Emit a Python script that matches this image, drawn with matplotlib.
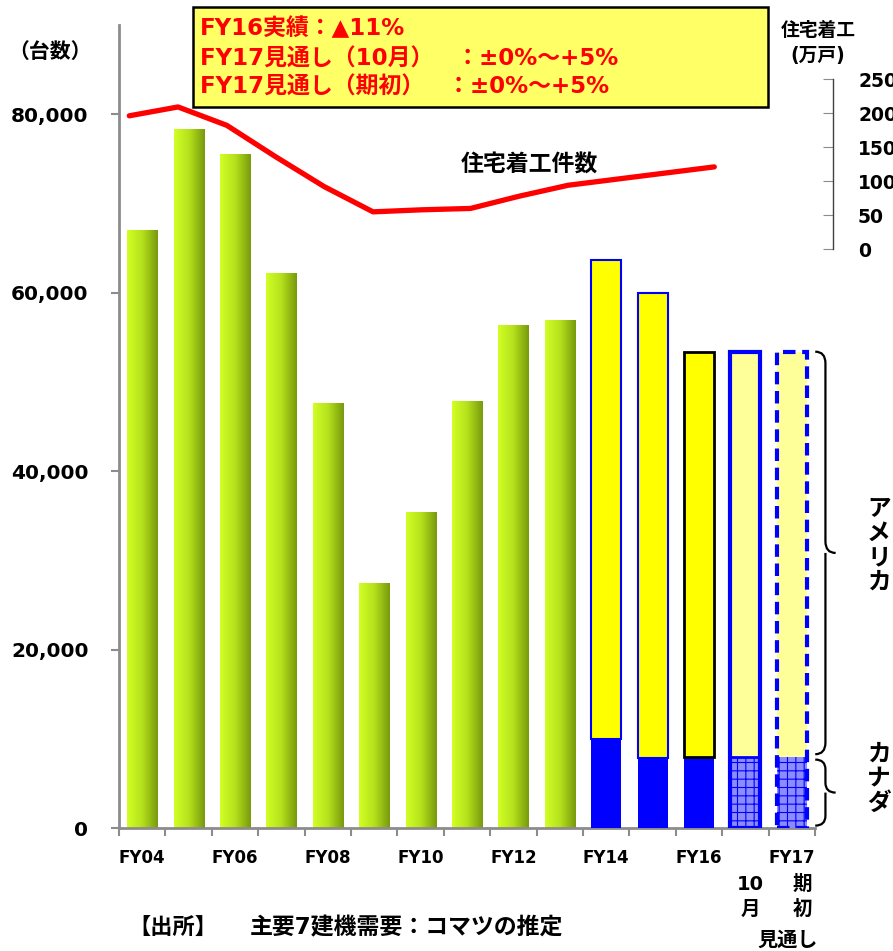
import numpy as np
import matplotlib
matplotlib.use("Agg")
import matplotlib.pyplot as plt
from matplotlib.patches import Rectangle, PathPatch
from matplotlib.path import Path
from matplotlib.colors import LinearSegmentedColormap

plt.rcParams['font.family'] = ['DejaVu Sans', 'Noto Sans CJK JP']
plt.rcParams['font.weight'] = 'bold'
plt.rcParams['hatch.linewidth'] = 0.8

# ---- data ----
categories = ["FY04", "FY05", "FY06", "FY07", "FY08", "FY09", "FY10",
              "FY11", "FY12", "FY13", "FY14", "FY15", "FY16",
              "FY17_10", "FY17_init"]
tick_labels = ["FY04", "", "FY06", "", "FY08", "", "FY10", "",
               "FY12", "", "FY14", "", "FY16", "", "FY17"]
# total demand for FY04-FY13 (units)
total_demand = [67000, 78300, 75600, 62200, 47700, 27500, 35400,
                47900, 56400, 57000]
# split into America / Canada for FY14 onward (units)
usa_demand = [53700, 52100, 45400, 45400, 45400]
canada_demand = [10000, 7900, 8000, 8000, 8000]
# housing starts (10k units), FY04-FY16
housing_years = ["FY04", "FY05", "FY06", "FY07", "FY08", "FY09", "FY10",
                 "FY11", "FY12", "FY13", "FY14", "FY15", "FY16"]
housing_starts = [196, 209, 182, 136, 92, 55, 58, 60, 78, 94, 103, 112, 121]

left_ticks = [0, 20000, 40000, 60000, 80000]
right_ticks = [0, 50, 100, 150, 200, 250]

fig = plt.figure(figsize=(8.93, 9.51), dpi=100)
W, H = 893, 951
ax = fig.add_axes([119 / W, 1 - 828.3 / H, (815 - 119) / W, (828.3 - 25) / H])

n = len(categories)
x = np.arange(n)
bw = 0.65
gray = "#8c8c8c"

# gradient green bars
green_cmap = LinearSegmentedColormap.from_list("g", ["#d2ff24", "#b4e01c", "#789a0c"])
grad = np.linspace(0, 1, 64).reshape(1, -1)
green = ax.bar(x[:len(total_demand)], total_demand, width=bw, color="none",
               linewidth=0, zorder=2)
for p in green:
    x0, y0 = p.get_x(), p.get_y()
    im = ax.imshow(grad, cmap=green_cmap, aspect="auto", zorder=2,
                   extent=[x0, x0 + p.get_width(), y0, y0 + p.get_height()])
    im.set_clip_path(p)

# stacked bars FY14 onward
xs = x[len(total_demand):]
can_colors = ["#0000ff", "#0000ff", "#0000ff", "#8c8cff", "#8c8cff"]
can_hatch = [None, None, None, "++", "++"]
usa_colors = ["#ffff00", "#ffff00", "#ffff00", "#ffff99", "#ffff99"]
usa_edges = ["#0000ff", "#0000ff", "#000000", "#0000ff", "#0000ff"]
usa_lw = [1.5, 1.5, 2.0, 2.0, 0]
for i, xi in enumerate(xs):
    ax.bar(xi, canada_demand[i], width=bw, color=can_colors[i],
           edgecolor="#0000ff", linewidth=0, hatch=can_hatch[i], zorder=3)
    ax.bar(xi, usa_demand[i], bottom=canada_demand[i], width=bw,
           color=usa_colors[i], edgecolor=usa_edges[i], linewidth=usa_lw[i],
           zorder=3)
# outlines for the two FY17 outlook bars
tot17 = [u + c for u, c in zip(usa_demand, canada_demand)]
ax.bar(xs[3], tot17[3], width=bw, fill=False, edgecolor="#0000ff",
       linewidth=3, zorder=4)
ax.bar(xs[4], tot17[4], width=bw, fill=False, edgecolor="#0000ff",
       linewidth=3, linestyle=(0, (3, 1.6)), zorder=4)

ax.set_xlim(-0.5, n - 0.5)
ax.set_ylim(0, 90000)
ax.set_yticks(left_ticks)
ax.set_yticklabels([f"{v:,}" for v in left_ticks], fontsize=14.5, fontweight="bold")
ax.set_xticks(x)
ax.set_xticklabels(tick_labels, fontsize=12, fontweight="bold")
ax.tick_params(axis="x", length=0, pad=15)
ax.set_xticks(np.arange(n + 1) - 0.5, minor=True)
ax.tick_params(axis="x", which="minor", length=6, color=gray, width=1.5, direction="out")
ax.tick_params(axis="y", length=6, color=gray, width=1.5, pad=16)
for s in ["top", "right"]:
    ax.spines[s].set_visible(False)
for s in ["left", "bottom"]:
    ax.spines[s].set_color(gray)
    ax.spines[s].set_linewidth(2)
ax.patch.set_alpha(0)

# housing starts line on its own axes
ax2 = fig.add_axes(ax.get_position())
ax2.patch.set_alpha(0)
for s in ["top", "left", "bottom"]:
    ax2.spines[s].set_visible(False)
ax2.set_xlim(-0.211, 14.066)
ax2.set_ylim(-850, 329.3)
ax2.plot(np.arange(len(housing_starts)), housing_starts, color="#ff0000",
         linewidth=3.8, solid_capstyle="round", solid_joinstyle="round", zorder=5)
ax2.set_xticks([])
ax2.yaxis.tick_right()
ax2.set_yticks(right_ticks)
ax2.set_yticklabels([str(v) for v in right_ticks])
ax2.spines["right"].set_position(("axes", (833 - 119) / (815 - 119)))
ax2.spines["right"].set_bounds(0, 250)
ax2.spines["right"].set_color("#404040")
ax2.spines["right"].set_linewidth(1)
ax2.tick_params(axis="y", direction="in", length=7, color=gray, pad=18,
                labelsize=13.5)
for lbl in ax2.get_yticklabels():
    lbl.set_horizontalalignment("left")
    lbl.set_fontweight("bold")
ax2.text(6.8, 124, "住宅着工件数", fontsize=16.5, fontweight="bold",
         ha="left", va="center", zorder=6)

# curly braces for America / Canada
def brace(axis, xl, xr, y_lo, y_hi, r):
    xm = (xl + xr) / 2
    ym = (y_lo + y_hi) / 2
    verts = [(xl, y_hi), (xm, y_hi), (xm, y_hi - r),
             (xm, ym + r), (xm, ym), (xr, ym),
             (xm, ym), (xm, ym - r),
             (xm, y_lo + r), (xm, y_lo), (xl, y_lo)]
    codes = [Path.MOVETO, Path.CURVE3, Path.CURVE3,
             Path.LINETO, Path.CURVE3, Path.CURVE3,
             Path.MOVETO, Path.LINETO,
             Path.LINETO, Path.CURVE3, Path.CURVE3]
    axis.add_patch(PathPatch(Path(verts, codes), fill=False, lw=1.6,
                             edgecolor="black", clip_on=False, zorder=6))

xb = n - 1 + bw / 2
brace(ax, xb + 0.18, xb + 0.62, canada_demand[-1] + 300, tot17[-1], 1300)
brace(ax, xb + 0.18, xb + 0.62, 300, canada_demand[-1] - 300, 1100)
ax.text(xb + 1.55, 31700, "\n".join("アメリカ"), fontsize=17, fontweight="bold",
        ha="center", va="center", linespacing=1.02, clip_on=False)
ax.text(xb + 1.55, 5600, "\n".join("カナダ"), fontsize=17, fontweight="bold",
        ha="center", va="center", linespacing=1.02, clip_on=False)

# FY17 outlook sub-labels
fig.text(750 / W, 1 - 897 / H, "10\n月", fontsize=14, fontweight="bold",
         ha="center", va="center", linespacing=1.4)
fig.text(802 / W, 1 - 897 / H, "期\n初", fontsize=14, fontweight="bold",
         ha="center", va="center", linespacing=1.4)
fig.text(788 / W, 1 - 940 / H, "見通し", fontsize=14.5, fontweight="bold",
         ha="center", va="center")

# axis titles
fig.text(8 / W, 1 - 52 / H, "（台数）", fontsize=15, fontweight="bold",
         ha="left", va="center")
fig.text(818 / W, 1 - 30 / H, "住宅着工", fontsize=13.5, fontweight="bold",
         ha="center", va="center")
fig.text(818 / W, 1 - 55 / H, "(万戸)", fontsize=13.5, fontweight="bold",
         ha="center", va="center")

# source note
fig.text(128 / W, 1 - 928 / H, "【出所】", fontsize=16, fontweight="bold",
         ha="left", va="center")
fig.text(250 / W, 1 - 928 / H, "主要7建機需要：コマツの推定", fontsize=16.5,
         fontweight="bold", ha="left", va="center")

# summary box
fig.patches.append(Rectangle((193 / W, 1 - 107 / H), (768 - 193) / W, 100 / H,
                             transform=fig.transFigure, facecolor="#ffff66",
                             edgecolor="black", linewidth=1.8, zorder=10))
box_lines = ["FY16実績：▲11%",
             "FY17見通し（10月）　：±0%～+5%",
             "FY17見通し（期初）　：±0%～+5%"]
for ln, yy in zip(box_lines, [29, 59, 87]):
    fig.text(200 / W, 1 - yy / H, ln, fontsize=16.5, fontweight="bold",
             color="#ff0000", ha="left", va="center", zorder=11)

fig.savefig("out.png", dpi=100)
